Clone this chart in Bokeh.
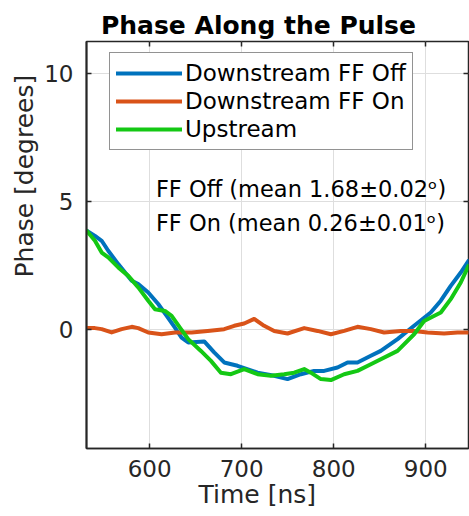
from bokeh.plotting import figure
from bokeh.models import (Range1d, FixedTicker, LinearAxis, Label, Legend, LegendItem, Title)
from bokeh.embed import file_html
from bokeh.resources import INLINE

# ---- data ----
off_t = [531.6, 540.6, 547.9, 555.0, 565.9, 580.5, 587.6, 598.5, 609.3, 618.5, 627.5, 634.7,
         641.9, 659.3, 670.1, 681.0, 695.5, 717.3, 735.3, 749.8, 764.3, 778.7, 789.6, 804.1,
         815.0, 825.8, 840.3, 851.1, 869.3, 887.3, 905.4, 916.3, 927.1, 938.0, 946.4]
off_v = [3.84, 3.64, 3.45, 3.06, 2.54, 1.89, 1.76, 1.43, 0.98, 0.52, 0.06, -0.33,
         -0.52, -0.48, -0.91, -1.30, -1.43, -1.70, -1.82, -1.95, -1.76, -1.63, -1.63, -1.50,
         -1.30, -1.30, -1.04, -0.85, -0.39, 0.13, 0.65, 1.11, 1.69, 2.21, 2.67]

on_t = [531.6, 540.6, 547.9, 558.7, 569.6, 580.5, 587.6, 598.5, 613.0, 627.5, 645.6, 663.0,
        681.0, 691.9, 702.7, 713.6, 724.4, 735.3, 749.8, 767.9, 782.4, 796.9, 811.3, 825.8,
        840.3, 854.7, 872.9, 887.3, 901.8, 919.9, 934.4, 946.4]
on_v = [0.04, 0.04, 0.00, -0.13, 0.00, 0.09, 0.04, -0.13, -0.20, -0.13, -0.13, -0.07,
        0.00, 0.13, 0.22, 0.40, 0.13, -0.07, -0.17, 0.04, -0.07, -0.20, -0.07, 0.09,
        0.00, -0.13, -0.07, -0.07, -0.13, -0.17, -0.13, -0.13]

up_t = [531.6, 540.6, 547.9, 555.0, 565.9, 576.8, 587.6, 598.5, 605.8, 616.6, 623.9, 632.9,
        641.9, 655.7, 666.6, 677.4, 688.3, 702.7, 717.3, 731.7, 746.1, 757.0, 767.9, 775.1,
        786.0, 796.9, 811.3, 825.8, 840.3, 869.3, 887.3, 898.2, 916.3, 927.1, 938.0, 946.4]
up_v = [3.84, 3.45, 2.99, 2.80, 2.41, 2.08, 1.63, 1.11, 0.78, 0.71, 0.52, 0.06,
        -0.39, -0.85, -1.24, -1.70, -1.76, -1.56, -1.76, -1.82, -1.76, -1.70, -1.56, -1.70,
        -1.95, -1.99, -1.76, -1.63, -1.37, -0.85, -0.20, 0.32, 0.65, 1.17, 1.82, 2.47]

x_ticks = [600, 700, 800, 900]
y_ticks = [0, 5, 10]
series_names = ["Downstream FF Off", "Downstream FF On", "Upstream"]
series_colors = ["#0072BD", "#D95319", "#14C814"]
notes = ["FF Off (mean 1.68\u00b10.02\u1d52)", "FF On (mean 0.26\u00b10.01\u1d52)"]
title_text = "Phase Along the Pulse"
xlabel_text = "Time [ns]"
ylabel_text = "Phase [degrees]"

FONT = "DejaVu Sans"
AX = "#262626"

p = figure(width=469, height=516,
           x_range=Range1d(531.4, 946.4), y_range=Range1d(-4.66, 11.23),
           output_backend="svg", toolbar_location=None,
           min_border_left=86, min_border_right=1, min_border_top=41, min_border_bottom=68)
p.background_fill_color = "white"
p.border_fill_color = "white"
p.outline_line_color = AX
p.outline_line_width = 1.5

# title
p.title.text = title_text
p.title.text_font = FONT
p.title.text_font_size = "25px"
p.title.text_font_style = "bold"
p.title.text_color = "black"
p.title.align = "left"
p.title.offset = 14.5
p.title.standoff = 4

# main axes
p.xaxis.ticker = FixedTicker(ticks=x_ticks)
p.yaxis.ticker = FixedTicker(ticks=y_ticks)
for ax in (p.xaxis[0], p.yaxis[0]):
    ax.major_label_text_font = FONT
    ax.major_label_text_font_size = "23px"
    ax.major_label_text_color = AX
    ax.axis_line_color = AX
    ax.axis_line_width = 1.5
    ax.major_tick_in = 5
    ax.major_tick_out = 0
    ax.major_tick_line_color = AX
    ax.major_tick_line_width = 1.5
    ax.minor_tick_line_color = None
p.yaxis[0].axis_line_width = 2
p.xaxis[0].major_label_standoff = 11
p.yaxis[0].major_label_standoff = 13

# box axes (tick marks only) on top and right
top = LinearAxis(ticker=FixedTicker(ticks=x_ticks),
                 major_label_overrides={t: "" for t in x_ticks})
right = LinearAxis(ticker=FixedTicker(ticks=y_ticks),
                   major_label_overrides={t: "" for t in y_ticks})
for ax in (top, right):
    ax.major_label_text_font_size = "1px"
    ax.major_label_standoff = 0
    ax.axis_line_color = None
    ax.major_tick_in = 5
    ax.major_tick_out = 0
    ax.major_tick_line_color = AX
    ax.major_tick_line_width = 1.5
    ax.minor_tick_line_color = None
p.add_layout(top, "above")
p.add_layout(right, "right")

# axis titles
p.add_layout(Title(text=xlabel_text, text_font=FONT, text_font_size="25px",
                   text_font_style="normal", text_color=AX, align="left", offset=112,
                   standoff=0, vertical_align="top"), "below")
p.add_layout(Title(text=ylabel_text, text_font=FONT, text_font_size="25px",
                   text_font_style="normal", text_color=AX, align="left", offset=171,
                   standoff=6, vertical_align="bottom"), "left")

# grid
p.xgrid.ticker = FixedTicker(ticks=x_ticks)
p.ygrid.ticker = FixedTicker(ticks=y_ticks)
for g in (p.xgrid[0], p.ygrid[0]):
    g.grid_line_color = "#dedede"
    g.grid_line_width = 1

# lines
renderers = []
for t, v, c in ((off_t, off_v, series_colors[0]), (on_t, on_v, series_colors[1]), (up_t, up_v, series_colors[2])):
    renderers.append(p.line(t, v, line_color=c, line_width=4, line_join="round", line_cap="round"))

legend = Legend(items=[LegendItem(label=n, renderers=[r]) for n, r in zip(series_names, renderers)],
                location=(23, 298), orientation="vertical",
                label_text_font=FONT, label_text_font_size="23px", label_text_color="black",
                glyph_width=66, glyph_height=28, label_height=28, spacing=0, padding=6,
                label_standoff=3, margin=0,
                border_line_color=AX, border_line_width=1.5,
                background_fill_color="white", background_fill_alpha=1)
p.add_layout(legend)

# annotation texts
for txt, yv in zip(notes, [5.48, 4.16]):
    p.add_layout(Label(x=606.8, y=yv, text=txt, text_font=FONT, text_font_size="22.5px",
                       text_color="black", text_align="left", text_baseline="middle"))

open("out.html", "w").write(file_html(p, INLINE))
